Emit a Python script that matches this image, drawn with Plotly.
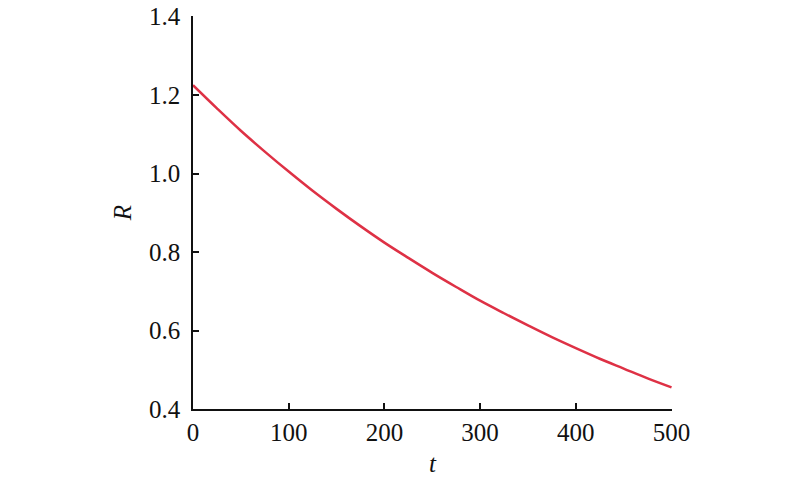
import plotly.graph_objects as go

t_values = [0, 25, 50, 75, 100, 125, 150, 175, 200, 225, 250, 275, 300, 325, 350, 375, 400, 425, 450, 475, 500]
r_values = [1.225, 1.166, 1.109, 1.056, 1.005, 0.956, 0.910, 0.866, 0.824, 0.785, 0.747, 0.711,
            0.676, 0.644, 0.613, 0.583, 0.555, 0.528, 0.503, 0.478, 0.455]
x_ticks = [0, 100, 200, 300, 400, 500]
y_ticks = [0.4, 0.6, 0.8, 1.0, 1.2, 1.4]
y_tick_labels = ["0.4", "0.6", "0.8", "1.0", "1.2", "1.4"]

fig = go.Figure()
fig.add_trace(go.Scatter(
    x=t_values, y=r_values, mode="lines",
    line=dict(color="#de3145", width=2.5, shape="spline"),
    showlegend=False, hoverinfo="skip", cliponaxis=False,
))

font = dict(family="Liberation Serif, Times New Roman, serif", size=25, color="#111111")

fig.update_layout(
    width=800, height=482,
    margin=dict(l=193, r=128, t=16, b=73, autoexpand=False),
    paper_bgcolor="white", plot_bgcolor="white",
    font=font,
)
fig.update_xaxes(
    range=[0, 500.5], tickvals=x_ticks, ticks="inside", ticklen=6, tickwidth=1.5,
    tickcolor="#111111", showline=True, linecolor="#111111", linewidth=1.5,
    showgrid=False, zeroline=False, tickfont=font, automargin=False,
    ticklabeloverflow="allow",
    title=dict(text="<i>t</i>", font=font, standoff=10),
)
fig.update_yaxes(
    range=[0.4, 1.4015], tickvals=y_ticks, ticktext=y_tick_labels, ticks="inside", ticklen=6,
    tickwidth=1.5, tickcolor="#111111", showline=True, linecolor="#111111", linewidth=1.5,
    showgrid=False, zeroline=False, tickfont=font, automargin=False, ticklabelstandoff=6,
    ticklabeloverflow="allow",
    title=dict(text="<i>R</i>", font=font, standoff=10),
)

fig.write_html("out.html", config={"displayModeBar": False},
               post_script="document.body.style.margin='0';")
